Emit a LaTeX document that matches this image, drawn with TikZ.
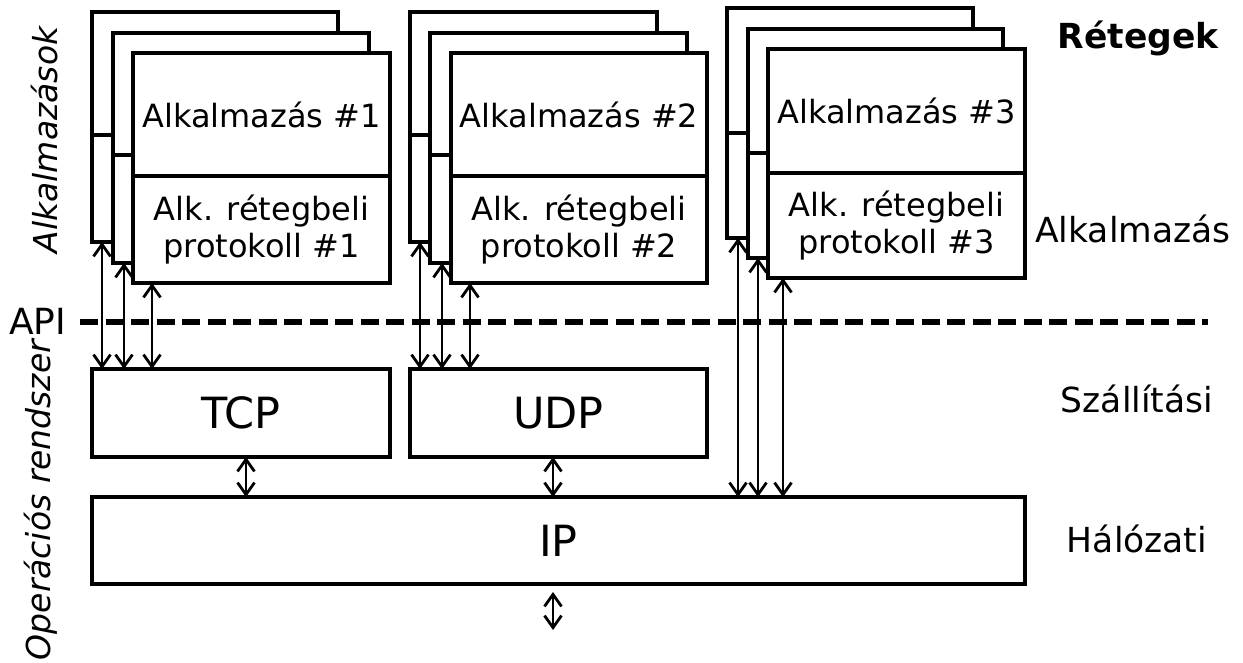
\documentclass[tikz,border=0pt]{standalone}
\usepackage{fontspec}
\setmainfont{DejaVu Sans}
\usetikzlibrary{arrows.meta}
\newcommand\mycard[8]{%
  \node[part, minimum width=#4pt, minimum height=#5pt] (#1t) at (#2,#3) {#7};
  \node[part, minimum width=#4pt, minimum height=#6pt] (#1b) at (#2,#3+#5) {#8};
}
\begin{document}
\begin{tikzpicture}[x=1pt,y=-1pt,
  part/.style={draw, fill=white, line width=3.5pt, inner sep=0pt, outer sep=0pt, anchor=north west, align=center, font=\fontsize{32}{37.5}\selectfont},
  box/.style={draw, line width=3.5pt, inner sep=0pt, outer sep=0pt, anchor=north west, font=\fontsize{43}{50}\selectfont},
  lbl/.style={inner sep=0pt, anchor=base, font=\fontsize{34.5}{40}\selectfont},
  vlbl/.style={inner sep=0pt, anchor=base, rotate=90, font=\itshape\fontsize{33}{40}\selectfont},
  tip/.tip={Straight Barb[length=12pt,width=17pt,line width=2.8pt]},
  dbl/.style={line width=2.8pt, tip-tip},
]
\useasboundingbox (0,0) rectangle (1243,662);
% stack 1
\mycard{s1a}{92}{12}{246}{123}{107}{}{}
\mycard{s1b}{113}{33}{256}{122}{108}{}{}
\mycard{s1c}{133}{53}{257}{123}{107}{Alkalmazás \#1}{Alk. rétegbeli\\protokoll \#1}
% stack 2
\mycard{s2a}{410}{12}{247}{123}{107}{}{}
\mycard{s2b}{430}{33}{257}{122}{108}{}{}
\mycard{s2c}{451}{53}{256}{123}{107}{Alkalmazás \#2}{Alk. rétegbeli\\protokoll \#2}
% stack 3
\mycard{s3a}{727}{8}{246}{125}{105}{}{}
\mycard{s3b}{748}{29}{255}{124}{105}{}{}
\mycard{s3c}{768}{49}{257}{124}{105}{Alkalmazás \#3}{Alk. rétegbeli\\protokoll \#3}
% transport and network boxes
\node[box, minimum width=298pt, minimum height=88pt] (tcp) at (92,369) {TCP};
\node[box, minimum width=297pt, minimum height=88pt] (udp) at (410,369) {UDP};
\node[box, minimum width=933pt, minimum height=87pt] (ip) at (92,497) {IP};
% API line
\node[lbl, anchor=base west, font=\fontsize{36}{40}\selectfont] (api) at (9,334) {API};
\coordinate (dl) at (80,322);
\coordinate (dr) at (1208,322);
\draw[line width=5.5pt, dash pattern=on 18pt off 7.5pt] (dl) -- (dr);
% layer labels
\node[lbl] (rtg) at (1138,48) {\bfseries Rétegek};
\node[lbl] (lalk) at (1133,242) {Alkalmazás};
\node[lbl] (lszal) at (1137,412) {Szállítási};
\node[lbl] (lhal) at (1137,552) {Hálózati};
\node[vlbl] (valk) at (57,140) {Alkalmazások};
\node[vlbl] (vop) at (50,500) {Operációs rendszer};
% arrows
\coordinate (x11) at (102,0); \coordinate (x12) at (124,0); \coordinate (x13) at (152,0);
\coordinate (x21) at (420,0); \coordinate (x22) at (442,0); \coordinate (x23) at (470,0);
\coordinate (x31) at (738,0); \coordinate (x32) at (758,0); \coordinate (x33) at (783,0);
\coordinate (xt) at (246,0); \coordinate (xu) at (553,0);
\draw[dbl] (x11 |- s1ab.south) -- (x11 |- tcp.north);
\draw[dbl] (x12 |- s1bb.south) -- (x12 |- tcp.north);
\draw[dbl] (x13 |- s1cb.south) -- (x13 |- tcp.north);
\draw[dbl] (x21 |- s2ab.south) -- (x21 |- udp.north);
\draw[dbl] (x22 |- s2bb.south) -- (x22 |- udp.north);
\draw[dbl] (x23 |- s2cb.south) -- (x23 |- udp.north);
\draw[dbl] (x31 |- s3ab.south) -- (x31 |- ip.north);
\draw[dbl] (x32 |- s3bb.south) -- (x32 |- ip.north);
\draw[dbl] (x33 |- s3cb.south) -- (x33 |- ip.north);
\draw[dbl] (xt |- tcp.south) -- (xt |- ip.north);
\draw[dbl] (xu |- udp.south) -- (xu |- ip.north);
\coordinate (b1) at (553,592);
\coordinate (b2) at (553,630);
\draw[dbl] (b1) -- (b2);
\end{tikzpicture}
\end{document}
